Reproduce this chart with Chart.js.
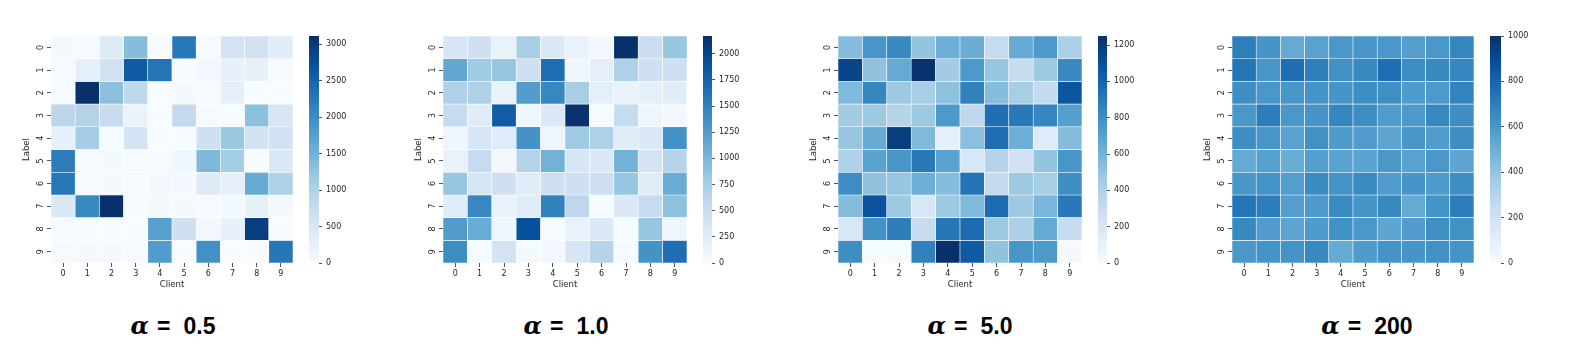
<!DOCTYPE html>
<html>
<head>
<meta charset="utf-8">
<script src="https://cdn.jsdelivr.net/npm/chart.js@4.4.1/dist/chart.umd.min.js"></script>
<style>
  html, body { margin: 0; padding: 0; background: #fff; }
  body { width: 1577px; height: 360px; position: relative; overflow: hidden; }
  canvas { position: absolute; }
  .ttl { position: absolute; top: 313px; font-family: 'Liberation Sans', Arial, sans-serif; font-weight: bold; font-size: 23px; line-height: 26px; color: #000; transform: translateX(-50%); white-space: nowrap; }
  .ttl i { font-family: 'DejaVu Serif', serif; font-style: italic; font-weight: bold; font-size: 24px; }
  .ttl .eq { margin: 0 13px 0 8px; }
</style>
</head>
<body>
<script>
// ---- data ----
const clientNames = ['0','1','2','3','4','5','6','7','8','9'];
const labelNames  = ['0','1','2','3','4','5','6','7','8','9'];
const alphaTitles = ['0.5', '1.0', '5.0', '200'];

// rows = label 0..9, cols = client 0..9
const alpha05 = [
  [50, 20, 400, 1350, 20, 2250, 30, 550, 600, 350],
  [20, 300, 600, 2600, 2300, 0, 100, 250, 250, 30],
  [30, 3100, 1300, 850, 0, 50, 30, 300, 10, 10],
  [900, 950, 750, 200, 10, 800, 20, 10, 1300, 500],
  [250, 1100, 10, 550, 10, 10, 650, 1200, 600, 600],
  [2200, 30, 40, 10, 20, 120, 1400, 1100, 10, 450],
  [2250, 20, 50, 30, 80, 60, 400, 250, 1600, 1000],
  [450, 2050, 3100, 10, 50, 50, 20, 70, 250, 50],
  [20, 10, 10, 10, 1750, 650, 100, 250, 2950, 10],
  [30, 40, 40, 20, 1800, 10, 1950, 10, 10, 2270]
];
const alpha10 = [
  [350, 450, 150, 750, 300, 150, 50, 2170, 500, 850],
  [1150, 800, 850, 450, 1650, 80, 200, 700, 450, 450],
  [700, 700, 150, 1250, 1450, 750, 200, 150, 200, 250],
  [550, 250, 1800, 100, 300, 2150, 20, 550, 100, 50],
  [100, 350, 250, 1350, 100, 800, 700, 250, 300, 1350],
  [150, 550, 50, 650, 1050, 350, 300, 1050, 400, 650],
  [850, 350, 450, 250, 450, 450, 450, 850, 250, 1100],
  [250, 1450, 150, 250, 1500, 600, 20, 300, 550, 900],
  [1250, 1100, 100, 1900, 10, 150, 300, 20, 850, 100],
  [1400, 20, 400, 30, 50, 350, 650, 20, 1350, 1650]
];
const alpha50 = [
  [540, 760, 820, 500, 620, 630, 310, 650, 740, 410],
  [1150, 510, 650, 1240, 450, 740, 490, 300, 470, 820],
  [560, 840, 470, 430, 520, 860, 540, 430, 320, 1070],
  [450, 470, 380, 470, 740, 340, 950, 900, 840, 710],
  [490, 640, 1180, 560, 110, 530, 950, 620, 150, 540],
  [400, 690, 760, 900, 690, 200, 380, 240, 500, 760],
  [800, 510, 490, 620, 540, 930, 320, 470, 430, 800],
  [540, 1090, 470, 200, 470, 560, 970, 470, 580, 900],
  [200, 780, 880, 300, 910, 970, 470, 410, 650, 300],
  [800, 10, 10, 860, 1250, 1050, 510, 760, 740, 15]
];
const alpha200 = [
  [700, 610, 520, 555, 600, 605, 600, 570, 600, 670],
  [740, 605, 760, 700, 630, 660, 760, 640, 660, 670],
  [640, 600, 605, 615, 610, 640, 635, 585, 595, 680],
  [600, 705, 600, 610, 670, 645, 580, 590, 665, 640],
  [640, 605, 555, 630, 585, 580, 540, 605, 580, 640],
  [520, 560, 505, 570, 555, 550, 600, 555, 600, 540],
  [605, 615, 570, 650, 615, 650, 580, 610, 585, 640],
  [740, 705, 570, 585, 650, 610, 660, 520, 615, 705],
  [660, 580, 540, 585, 630, 600, 540, 580, 635, 630],
  [600, 615, 615, 660, 520, 585, 615, 610, 625, 615]
];
const colorMax = [3110, 2170, 1250, 1000];
const cbTicks05  = [0, 500, 1000, 1500, 2000, 2500, 3000];
const cbTicks10  = [0, 250, 500, 750, 1000, 1250, 1500, 1750, 2000];
const cbTicks50  = [0, 200, 400, 600, 800, 1000, 1200];
const cbTicks200 = [0, 200, 400, 600, 800, 1000];

// ---- layout (positions only) ----
const layoutBoxes = [
  { plotL: 51,   plotR: 293,  cbL: 309,  cbR: 319,  titleX: 173 },
  { plotL: 443,  plotR: 687,  cbL: 703,  cbR: 712,  titleX: 566 },
  { plotL: 838,  plotR: 1082, cbL: 1098, cbR: 1107, titleX: 970 },
  { plotL: 1232, plotR: 1474, cbL: 1490, cbR: 1501, titleX: 1367 }
];
const PLOT_TOP = 36, PLOT_BOTTOM = 263, CANVAS_H = 292, YAXIS_W = 30, CB_AXIS_W = 40;

// Seaborn/matplotlib "Blues"
const BLUES = [[247,251,255],[222,235,247],[198,219,239],[158,202,225],[107,174,214],[66,146,198],[33,113,181],[8,81,156],[8,48,107]];
function blues(t) {
  t = Math.max(0, Math.min(1, t));
  const s = t * 8, i = Math.min(7, Math.floor(s)), f = s - i;
  const a = BLUES[i], b = BLUES[i + 1];
  return 'rgb(' + a.map((v, k) => Math.round(v + (b[k] - v) * f)).join(',') + ')';
}

Chart.defaults.font.family = "'DejaVu Sans', sans-serif";
Chart.defaults.color = '#262626';
const TICK_FONT = { family: "'DejaVu Sans', sans-serif", size: 8 };
const TITLE_FONT = { family: "'DejaVu Sans', sans-serif", size: 8.5 };

const matrices = [alpha05, alpha10, alpha50, alpha200];
const cbTicks = [cbTicks05, cbTicks10, cbTicks50, cbTicks200];

function makeCanvas(left, width) {
  const c = document.createElement('canvas');
  c.width = width; c.height = CANVAS_H;
  c.style.left = left + 'px'; c.style.top = '0px';
  c.style.width = width + 'px'; c.style.height = CANVAS_H + 'px';
  document.body.appendChild(c);
  return c;
}

matrices.forEach((mat, p) => {
  const L = layoutBoxes[p];
  const vmax = colorMax[p];
  // heatmap
  const hmLeft = L.plotL - YAXIS_W;
  const hmW = YAXIS_W + (L.plotR - L.plotL) + 8;
  new Chart(makeCanvas(hmLeft, hmW), {
    type: 'bar',
    data: {
      labels: clientNames,
      datasets: labelNames.map((lab, r) => ({
        label: lab,
        data: clientNames.map(() => 1),
        cellValues: mat[r],
        backgroundColor: mat[r].map(v => blues(v / vmax)),
        borderColor: '#ffffff',
        borderWidth: 0.6,
        borderSkipped: false,
        barPercentage: 1,
        categoryPercentage: 1
      }))
    },
    options: {
      responsive: false, animation: false, devicePixelRatio: 1,
      layout: { padding: { top: PLOT_TOP, right: 8, left: 0, bottom: 0 } },
      plugins: { legend: { display: false }, tooltip: { enabled: false } },
      scales: {
        x: {
          type: 'category', stacked: true, offset: true,
          grid: { display: true, drawOnChartArea: false, drawTicks: true, tickLength: 4, tickWidth: 1, tickColor: '#555', offset: false },
          border: { display: false },
          ticks: { font: TICK_FONT, color: '#262626', padding: 2, minRotation: 0, maxRotation: 0, autoSkip: false },
          title: { display: true, text: 'Client', font: TITLE_FONT, color: '#262626', padding: { top: 0, bottom: 2 } },
          afterFit: s => { s.height = CANVAS_H - PLOT_BOTTOM; }
        },
        y: {
          type: 'linear', stacked: true, min: 0, max: labelNames.length, reverse: true,
          afterBuildTicks: s => { s.ticks = labelNames.map((_, i) => ({ value: i + 0.5 })); },
          grid: { display: true, drawOnChartArea: false, drawTicks: true, tickLength: 4, tickWidth: 1, tickColor: '#555' },
          border: { display: false },
          ticks: { font: TICK_FONT, color: '#262626', padding: 4, minRotation: 90, maxRotation: 90, crossAlign: 'center',
                   callback: v => labelNames[Math.floor(v)] },
          title: { display: true, text: 'Label', font: TITLE_FONT, color: '#262626', padding: { top: 1, bottom: 0 } },
          afterFit: s => { s.width = YAXIS_W; }
        }
      }
    }
  });

  // colorbar
  const cbW = L.cbR - L.cbL;
  new Chart(makeCanvas(L.cbL, cbW + CB_AXIS_W), {
    type: 'bar',
    data: {
      labels: [''],
      datasets: [{
        data: [[0, vmax]],
        backgroundColor: ctx => {
          const area = ctx.chart.chartArea;
          if (!area) return BLUES[4];
          const g = ctx.chart.ctx.createLinearGradient(0, area.bottom, 0, area.top);
          BLUES.forEach((c, i) => g.addColorStop(i / 8, 'rgb(' + c.join(',') + ')'));
          return g;
        },
        borderWidth: 0,
        barPercentage: 1,
        categoryPercentage: 1
      }]
    },
    options: {
      responsive: false, animation: false, devicePixelRatio: 1,
      layout: { padding: { top: PLOT_TOP, bottom: CANVAS_H - PLOT_BOTTOM, left: 0, right: 0 } },
      plugins: { legend: { display: false }, tooltip: { enabled: false } },
      scales: {
        x: { display: false },
        y: {
          position: 'right', min: 0, max: vmax,
          afterBuildTicks: s => { s.ticks = cbTicks[p].map(v => ({ value: v })); },
          grid: { display: true, drawOnChartArea: false, drawTicks: true, tickLength: 3, tickWidth: 1, tickColor: '#555' },
          border: { display: false },
          ticks: { font: TICK_FONT, color: '#262626', padding: 4, callback: v => String(v) },
          afterFit: s => { s.width = CB_AXIS_W; }
        }
      }
    }
  });

  // panel title
  const t = document.createElement('div');
  t.className = 'ttl';
  t.style.left = L.titleX + 'px';
  t.innerHTML = '<i>α</i><span class="eq">=</span>' + alphaTitles[p];
  document.body.appendChild(t);
});
</script>
</body>
</html>
